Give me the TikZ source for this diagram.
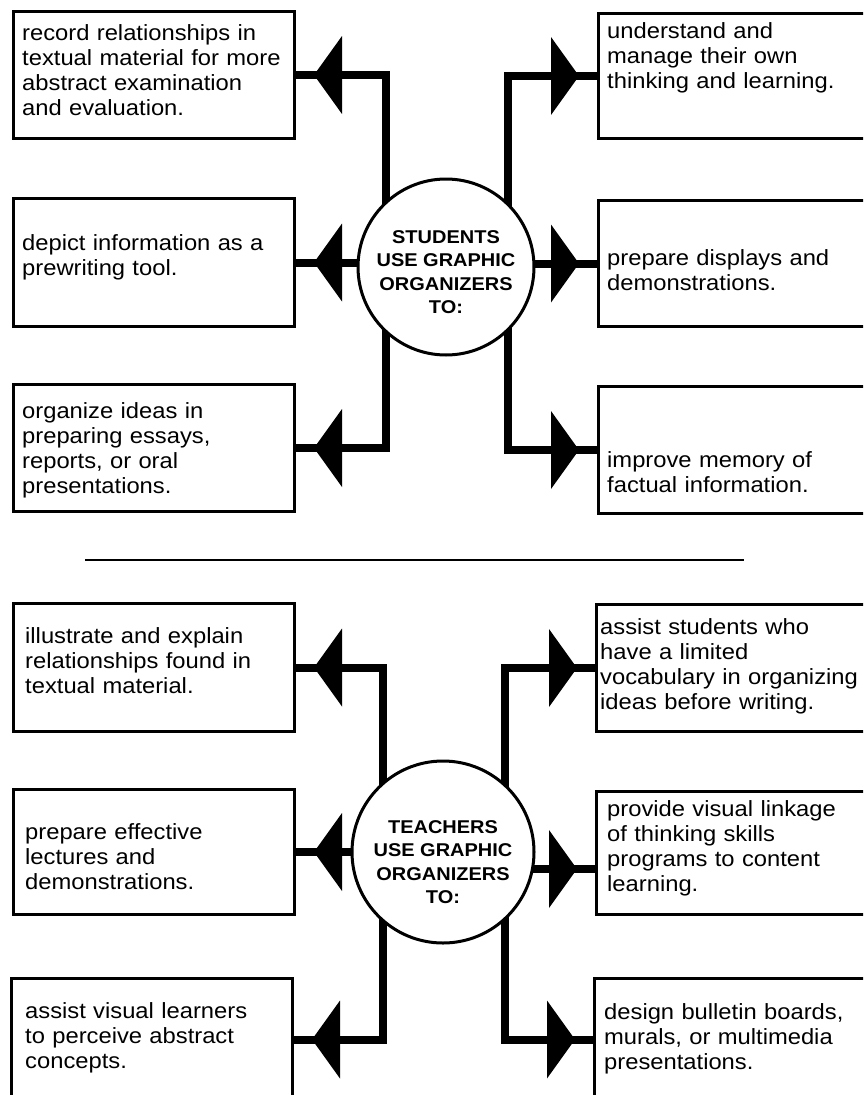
\documentclass[tikz,border=0pt]{standalone}
\usepackage{fontspec}
\setmainfont{Liberation Sans}[FakeStretch=1.08]
\usepackage{tikz}
\usetikzlibrary{calc,arrows.meta,decorations.markings}
\pgfdeclarelayer{back}
\pgfsetlayers{back,main}
\definecolor{ink}{HTML}{000000}
\definecolor{paper}{HTML}{FFFFFF}
\tikzset{
  box/.style={draw=ink, line width=3pt, anchor=north west, minimum width=281pt, inner sep=0pt},
  hub/.style={circle, draw=ink, line width=3pt, fill=paper, inner sep=0pt},
  hublab/.style={text=ink, font=\fontsize{18.5}{23.5}\selectfont\bfseries, align=center, inner sep=0pt},
  lab/.style={text=ink, font=\fontsize{22}{25}\selectfont, text width=300pt, align=left, anchor=base west, inner sep=0pt},
  link/.style={draw=ink, line width=8pt, line join=miter, postaction={decorate},
    decoration={markings, mark=at position -18pt with {\arrow{Triangle[length=28pt,width=78pt,line width=0pt]}}}},
  rule/.style={draw=ink, line width=2pt}
}

\begin{document}
\begin{tikzpicture}[x=1pt,y=-1pt]
  \useasboundingbox (0,0) rectangle (863,1095);
  \clip (0,0) rectangle (863,1095);
  \begin{pgfonlayer}{back}
    \fill[paper] (0,0) rectangle (863,1095);
  \end{pgfonlayer}

  % students
  \node[hub, minimum size=176pt] (st) at (446,267) {};
  \node[hublab] (stl) at (446,272) {STUDENTS\\USE GRAPHIC\\ORGANIZERS\\TO:};

  \node[box, minimum height=127pt] (sl1) at (12,10) {};
  \node[box, minimum height=128pt] (sl2) at (12,197) {};
  \node[box, minimum height=127pt] (sl3) at (12,383) {};
  \node[box, minimum height=125pt] (sr1) at (597,12) {};
  \node[box, minimum height=126pt] (sr2) at (597,199) {};
  \node[box, minimum height=127pt] (sr3) at (597,385) {};

  \node[lab] (sl1t) at (22,40) {record relationships in\\textual material for more\\abstract examination\\and evaluation.};
  \node[lab] (sl2t) at (22,250) {depict information as a\\prewriting tool.};
  \node[lab] (sl3t) at (22,418) {organize ideas in\\preparing essays,\\reports, or oral\\presentations.};
  \node[lab] (sr1t) at (607,38) {understand and\\manage their own\\thinking and learning.};
  \node[lab] (sr2t) at (607,265) {prepare displays and\\demonstrations.};
  \node[lab] (sr3t) at (607,467) {improve memory of\\factual information.};

  \begin{pgfonlayer}{back}
    \draw[link] ($(st.center)+(-60,0)$) |- (sl1.east);
    \draw[link] (st.center |- sl2.east) -- (sl2.east);
    \draw[link] ($(st.center)+(-60,0)$) |- (sl3.east);
    \draw[link] ($(st.center)+(62,0)$) |- (sr1.west);
    \draw[link] (st.center |- sr2.west) -- (sr2.west);
    \draw[link] ($(st.center)+(62,0)$) |- (sr3.west);
  \end{pgfonlayer}

  \coordinate (r1) at (85,560);
  \coordinate (r2) at (744,560);
  \draw[rule] (r1) -- (r2);

  % teachers
  \node[hub, minimum size=182pt] (tc) at (443,852) {};
  \node[hublab] (tcl) at (443,862) {TEACHERS\\USE GRAPHIC\\ORGANIZERS\\TO:};

  \node[box, minimum height=128pt] (tl1) at (12,602) {};
  \node[box, minimum height=125pt] (tl2) at (12,788) {};
  \node[box, minimum height=122pt] (tl3) at (10,977) {};
  \node[box, minimum height=127pt] (tr1) at (595,603) {};
  \node[box, minimum height=123pt] (tr2) at (595,790) {};
  \node[box, minimum height=122pt] (tr3) at (593,977) {};

  \node[lab] (tl1t) at (25,643) {illustrate and explain\\relationships found in\\textual material.};
  \node[lab] (tl2t) at (25,839) {prepare effective\\lectures and\\demonstrations.};
  \node[lab] (tl3t) at (25,1018) {assist visual learners\\to perceive abstract\\concepts.};
  \node[lab] (tr1t) at (600,634) {assist students who\\have a limited\\vocabulary in organizing\\ideas before writing.};
  \node[lab] (tr2t) at (607,816) {provide visual linkage\\of thinking skills\\programs to content\\learning.};
  \node[lab] (tr3t) at (604,1019) {design bulletin boards,\\murals, or multimedia\\presentations.};

  \coordinate (tr2in) at ($(tr2.west)+(0,16)$);
  \begin{pgfonlayer}{back}
    \draw[link] ($(tc.center)+(-60,0)$) |- (tl1.east);
    \draw[link] (tc.center |- tl2.east) -- (tl2.east);
    \draw[link] ($(tc.center)+(-60,0)$) |- (tl3.east);
    \draw[link] ($(tc.center)+(62,0)$) |- (tr1.west);
    \draw[link] (tc.center |- tr2in) -- (tr2in);
    \draw[link] ($(tc.center)+(62,0)$) |- (tr3.west);
  \end{pgfonlayer}
\end{tikzpicture}
\end{document}
